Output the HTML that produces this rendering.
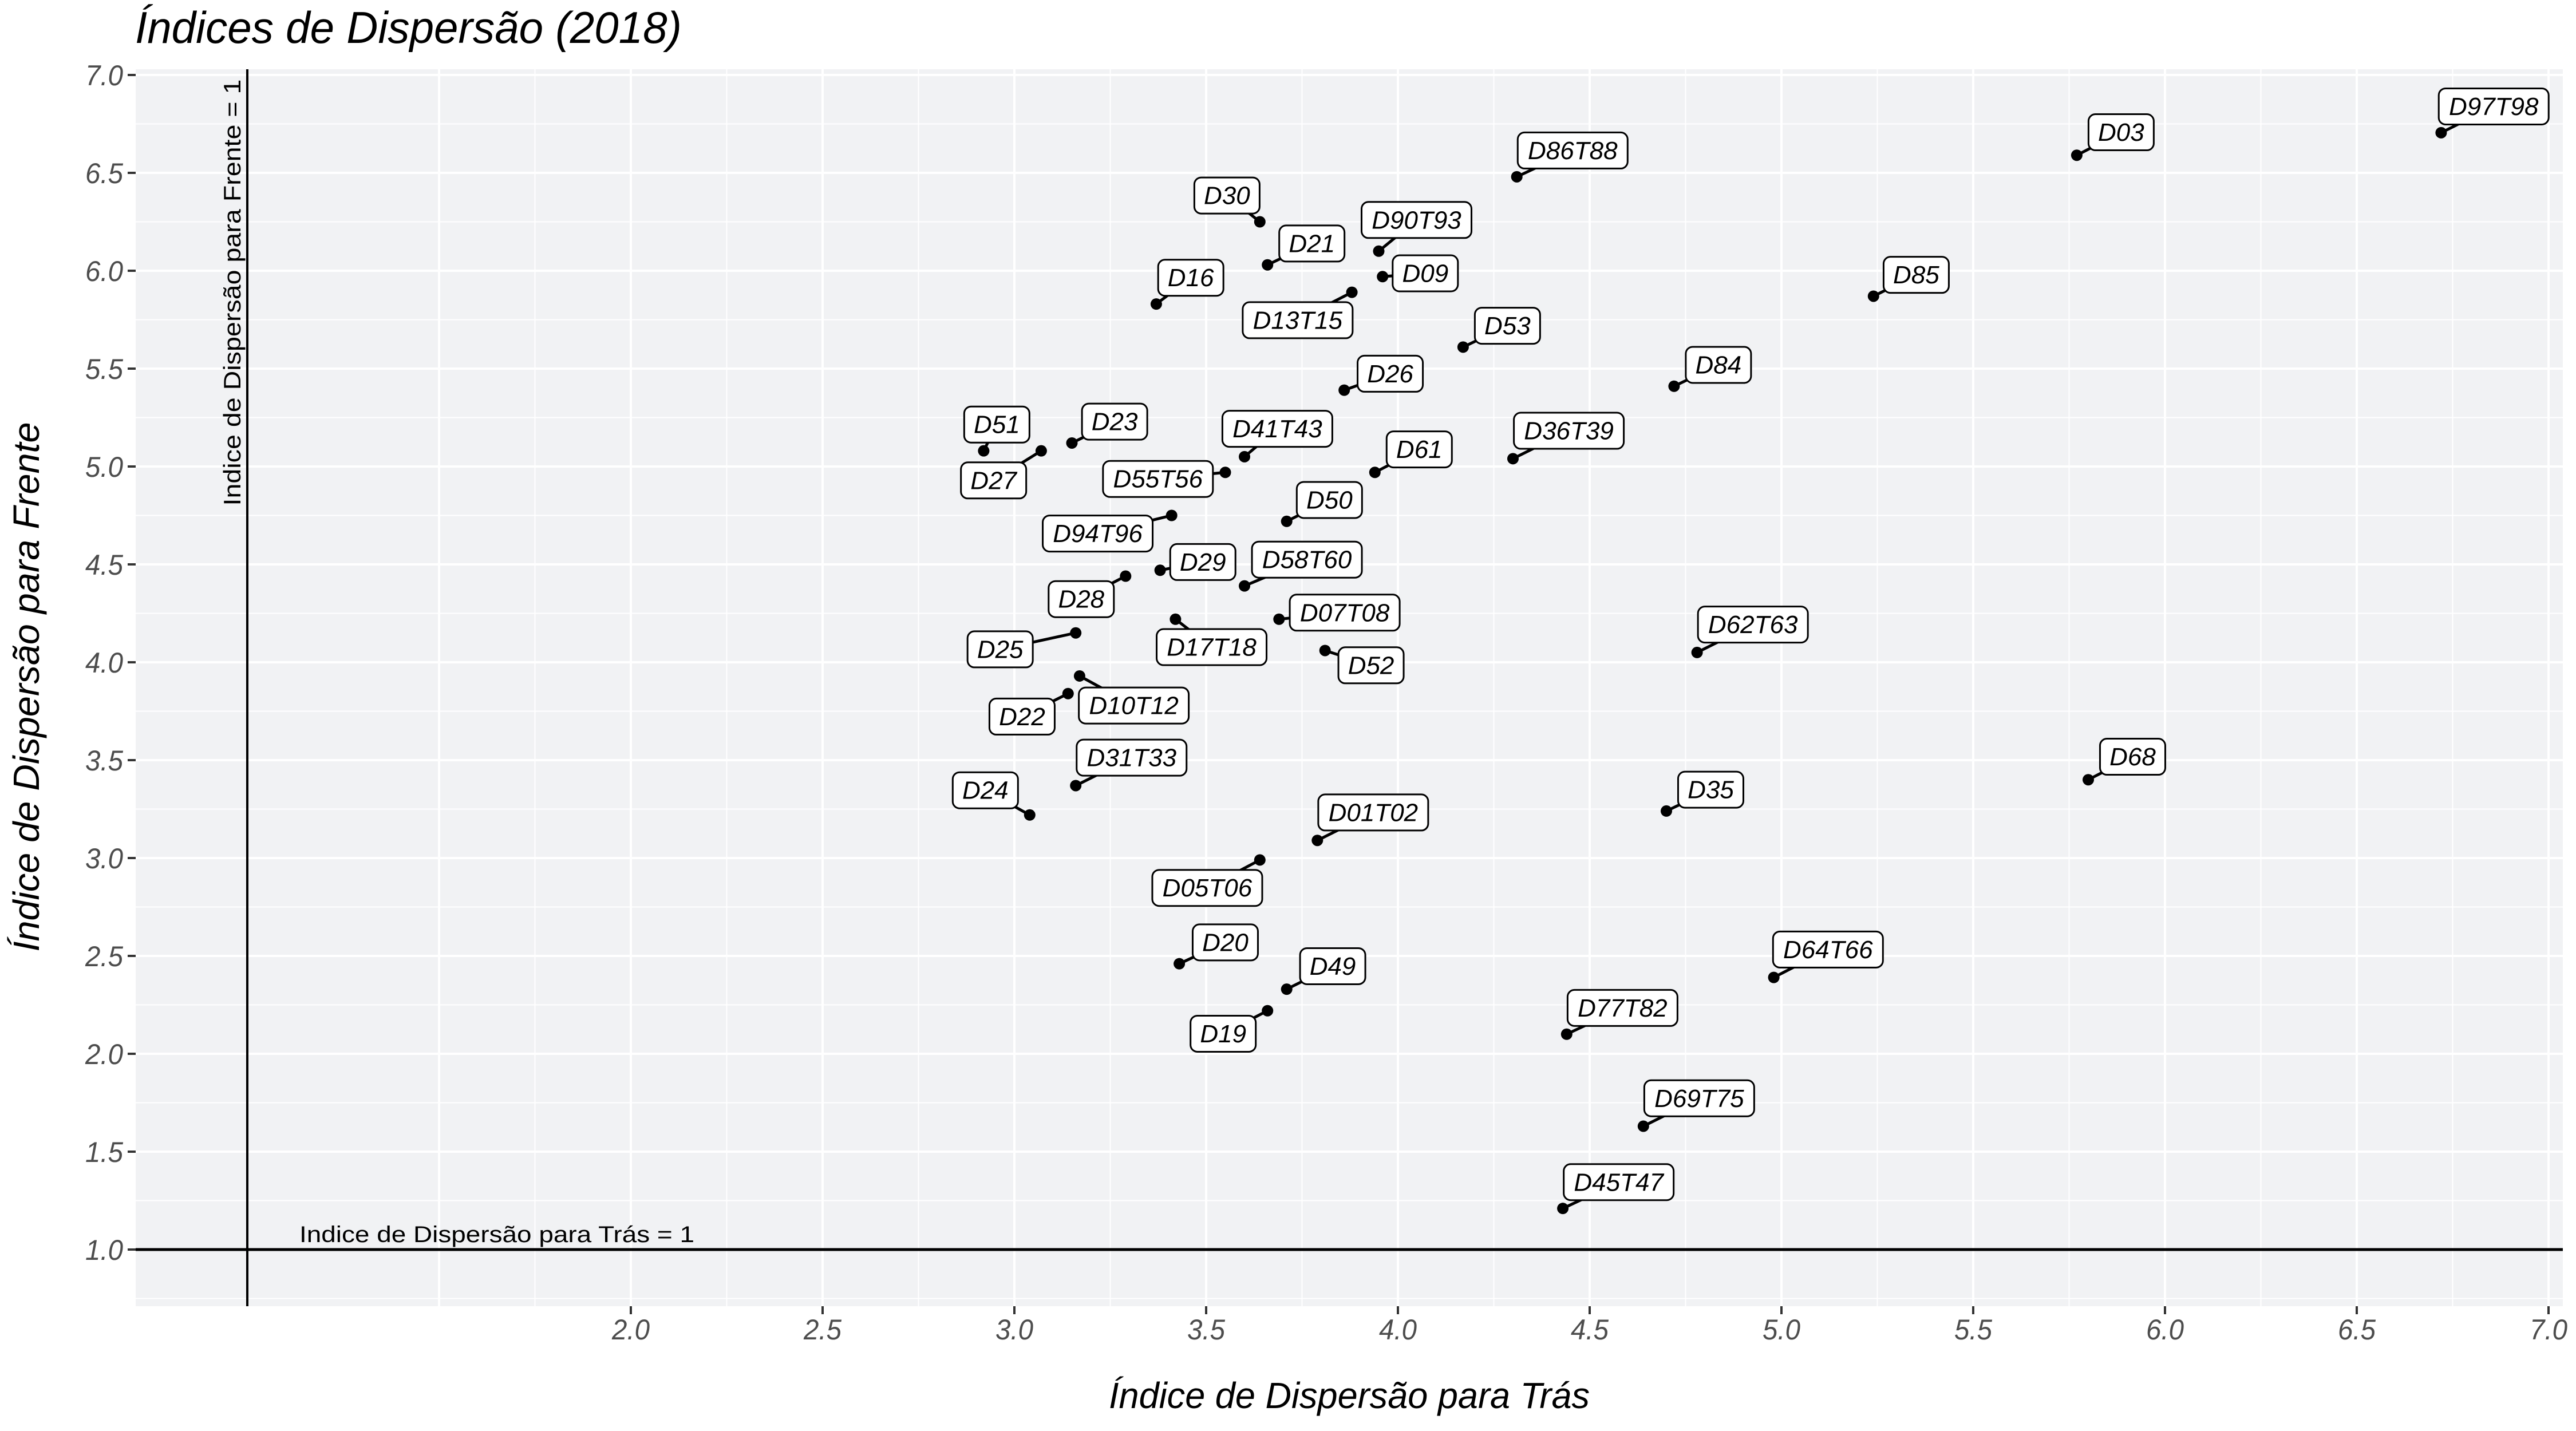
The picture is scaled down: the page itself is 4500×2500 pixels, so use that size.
<!DOCTYPE html>
<html><head><meta charset="utf-8">
<style>
html,body{margin:0;padding:0;background:#fff;}
svg{display:block;}
</style></head>
<body>
<svg id="chart" width="4500" height="2500" viewBox="0 0 4500 2500" xmlns="http://www.w3.org/2000/svg">
  <rect x="0" y="0" width="4500" height="2500" fill="#ffffff"/>
  <text x="236" y="75" font-family="Liberation Sans, sans-serif" font-style="italic" font-size="78" fill="#000" textLength="955" lengthAdjust="spacingAndGlyphs">Índices de Dispersão (2018)</text>
  <rect x="237" y="121" width="4240" height="2161" fill="#f1f2f4"/>
  <g id="grid"></g>
  <g id="refs"></g>
  <g id="axes"></g>
  <g id="marks"></g>
  <g id="labels"></g>
  <text x="2357" y="2460" text-anchor="middle" font-family="Liberation Sans, sans-serif" font-style="italic" font-size="64" fill="#000" textLength="840" lengthAdjust="spacingAndGlyphs">Índice de Dispersão para Trás</text>
  <text transform="translate(68,1200) rotate(-90)" text-anchor="middle" font-family="Liberation Sans, sans-serif" font-style="italic" font-size="64" fill="#000" textLength="925" lengthAdjust="spacingAndGlyphs">Índice de Dispersão para Frente</text>
</svg>
<script>
const names = ["D97T98","D03","D86T88","D30","D21","D90T93","D09","D16","D13T15","D85","D53","D84","D26","D51","D23","D27","D41T43","D36T39","D61","D55T56","D50","D94T96","D29","D58T60","D28","D07T08","D17T18","D25","D52","D62T63","D10T12","D22","D31T33","D68","D24","D35","D01T02","D05T06","D20","D49","D64T66","D19","D77T82","D69T75","D45T47"];
const xValues = [6.72,5.77,4.31,3.64,3.66,3.95,3.96,3.37,3.88,5.24,4.17,4.72,3.86,2.92,3.15,3.07,3.60,4.30,3.94,3.55,3.71,3.41,3.38,3.60,3.29,3.69,3.42,3.16,3.81,4.78,3.17,3.14,3.16,5.80,3.04,4.70,3.79,3.64,3.43,3.71,4.98,3.66,4.44,4.64,4.43];
const yValues = [6.705,6.59,6.48,6.25,6.03,6.10,5.97,5.83,5.89,5.87,5.61,5.41,5.39,5.08,5.12,5.08,5.05,5.04,4.97,4.97,4.72,4.75,4.47,4.39,4.44,4.22,4.22,4.15,4.06,4.05,3.93,3.84,3.37,3.40,3.22,3.24,3.09,2.99,2.46,2.33,2.39,2.22,2.10,1.63,1.21];
const xTickLabels = ["2.0","2.5","3.0","3.5","4.0","4.5","5.0","5.5","6.0","6.5","7.0"];
const yTickLabels = ["1.0","1.5","2.0","2.5","3.0","3.5","4.0","4.5","5.0","5.5","6.0","6.5","7.0"];
// label offsets (label centre relative to point, in reference display units) - layout only
const labelDX = [32,27,34,-20,27,23,26,21,-33,26,27,27,28,8,26,-29,20,34,27,-41,26,-45,26,38,-27,40,22,-46,28,34,33,-28,34,27,-27,27,34,-32,28,28,33,-27,34,34,34];
const labelDY = [-16,-14,-16,-16,-13,-19,-2,-16,17,-13,-13,-13,-10,-16,-13,18,-17,-17,-14,4,-13,11,-5,-16,14,-4,17,10,9,-17,18,14,-17,-14,-15,-13,-17,17,-13,-14,-17,14,-16,-17,-16];

const S = 2.87;
const X0 = 432, XU = 670, Y0 = 2183, YU = 342;
const xScale = v => X0 + (v - 1) * XU;
const yScale = v => Y0 - (v - 1) * YU;
const NS = "http://www.w3.org/2000/svg";
function mk(tag, attrs, parent){ const e = document.createElementNS(NS, tag); for (const k in attrs) e.setAttribute(k, attrs[k]); parent.appendChild(e); return e; }

const grid = document.getElementById('grid');
const PL = 237, PR = 4477, PT = 121, PB = 2282;
for (let v = 1.75; v <= 7.01; v += 0.5) {
  const l = mk('line', {x1:xScale(v), x2:xScale(v), y1:PT, y2:PB, stroke:'#fff', 'stroke-width':2}, grid);
  
  
}
for (let v = 1.5; v <= 7.01; v += 0.5) {
  const l = mk('line', {x1:xScale(v), x2:xScale(v), y1:PT, y2:PB, stroke:'#fff', 'stroke-width':4}, grid);
  
  
}
for (let v = 0.75; v <= 7.01; v += 0.5) {
  const l = mk('line', {x1:PL, x2:PR, y1:yScale(v), y2:yScale(v), stroke:'#fff', 'stroke-width':2}, grid);
  
  
}
for (let v = 1; v <= 7.01; v += 0.5) {
  const l = mk('line', {x1:PL, x2:PR, y1:yScale(v), y2:yScale(v), stroke:'#fff', 'stroke-width':4}, grid);
  
  
}

const refs = document.getElementById('refs');
const vl = mk('line', {x1:xScale(1), x2:xScale(1), y1:PT, y2:PB, stroke:'#000', 'stroke-width':4}, refs);


const hl = mk('line', {x1:PL, x2:PR, y1:yScale(1), y2:yScale(1), stroke:'#000', 'stroke-width':5}, refs);


const vt = mk('text', {transform:`translate(${xScale(1)-12},511) rotate(-90)`, 'text-anchor':'middle', 'font-family':'Liberation Sans, sans-serif', 'font-size':42, fill:'#000', textLength:745, lengthAdjust:'spacingAndGlyphs'}, refs);
vt.textContent = 'Indice de Dispersão para Frente = 1';


const ht = mk('text', {x:868, y:yScale(1)-13, 'text-anchor':'middle', 'font-family':'Liberation Sans, sans-serif', 'font-size':40, fill:'#000', textLength:690, lengthAdjust:'spacingAndGlyphs'}, refs);
ht.textContent = 'Indice de Dispersão para Trás = 1';



const axes = document.getElementById('axes');
xTickLabels.forEach(t => {
  const v = parseFloat(t), x = xScale(v);
  const tk = mk('line', {x1:x, x2:x, y1:PB, y2:PB+14, stroke:'#333', 'stroke-width':4}, axes);
  
  
  const tx = mk('text', {x:x, y:2340, 'text-anchor':'middle', 'font-family':'Liberation Sans, sans-serif', 'font-style':'italic', 'font-size':50, fill:'#4d4d4d', textLength:66, lengthAdjust:'spacingAndGlyphs'}, axes);
  tx.textContent = t;
  
  
});
yTickLabels.forEach(t => {
  const v = parseFloat(t), y = yScale(v);
  const tk = mk('line', {x1:PL-14, x2:PL, y1:y, y2:y, stroke:'#333', 'stroke-width':4}, axes);
  
  
  const tx = mk('text', {x:PL-22, y:y+18, 'text-anchor':'end', 'font-family':'Liberation Sans, sans-serif', 'font-style':'italic', 'font-size':50, fill:'#4d4d4d', textLength:66, lengthAdjust:'spacingAndGlyphs'}, axes);
  tx.textContent = t;
  
  
});

const marks = document.getElementById('marks');
const labels = document.getElementById('labels');
names.forEach((n, i) => {
  const px = xScale(xValues[i]), py = yScale(yValues[i]);
  const lx = px + labelDX[i] * S, ly = py + labelDY[i] * S;
  const seg = mk('line', {x1:px, y1:py, x2:lx, y2:ly, stroke:'#000', 'stroke-width':5}, marks);
  
  
  const c = mk('circle', {cx:px, cy:py, r:10, fill:'#000'}, marks);
  
  
  const g = mk('g', {}, labels);
  
  
  const w = n.length * 26 + 36, h = 63;
  mk('rect', {x:lx - w/2, y:ly - h/2, width:w, height:h, rx:12, ry:12, fill:'#fff', stroke:'#000', 'stroke-width':3}, g);
  const t = mk('text', {x:lx, y:ly + 15, 'text-anchor':'middle', 'font-family':'Liberation Sans, sans-serif', 'font-style':'italic', 'font-size':44, fill:'#000'}, g);
  t.textContent = n;
});
</script>
</body></html>
